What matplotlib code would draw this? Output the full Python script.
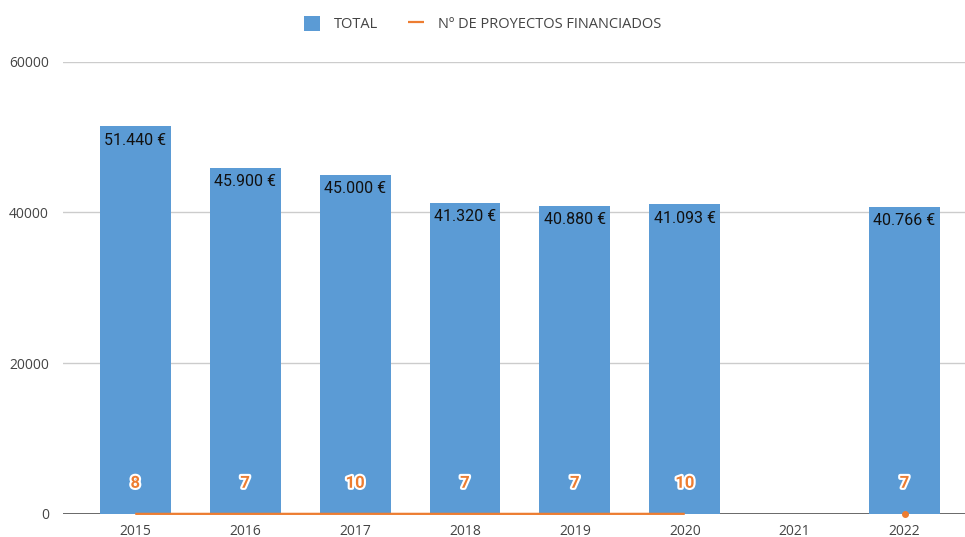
import numpy as np
import matplotlib.pyplot as plt
import matplotlib.patheffects as pe

# Data
years = ['2015', '2016', '2017', '2018', '2019', '2020', '2021', '2022']
total = [51440, 45900, 45000, 41320, 40880, 41093, np.nan, 40766]
total_labels = ['51.440 €', '45.900 €', '45.000 €', '41.320 €', '40.880 €', '41.093 €', '', '40.766 €']
proyectos = [8, 7, 10, 7, 7, 10, np.nan, 7]

blue = '#5B9BD5'
orange = '#ED7D31'

fig = plt.figure(figsize=(9.65, 5.37), dpi=100)
ax = fig.add_axes([0.065, 0.043, 0.935, 0.842])

x = np.arange(len(years))
tot = np.array(total, dtype=float)
bars = ax.bar(x, np.nan_to_num(tot), width=0.645, color=blue, zorder=2, label='TOTAL')

# value labels inside the top of the bars
for xi, v, lab in zip(x, tot, total_labels):
    if np.isnan(v):
        continue
    ax.annotate(lab, (xi, v), xytext=(0, -10), textcoords='offset points',
                ha='center', va='center', fontsize=11.5, color='#111111',
                family='Roboto', zorder=5)

# line series (same axis, so it sits at the bottom)
proy = np.array(proyectos, dtype=float)
line, = ax.plot(x, proy, color=orange, lw=1.6, zorder=3, label='Nº DE PROYECTOS FINANCIADOS',
                solid_capstyle='butt', clip_on=False)
# isolated points get a dot
for i, v in enumerate(proy):
    if np.isnan(v):
        continue
    left_nan = i == 0 or np.isnan(proy[i - 1])
    right_nan = i == len(proy) - 1 or np.isnan(proy[i + 1])
    if left_nan and right_nan:
        ax.plot(x[i], v, 'o', color=orange, ms=4, zorder=4, clip_on=False)
for xi, v in zip(x, proy):
    if np.isnan(v):
        continue
    ax.annotate('%d' % v, (xi, v), xytext=(0, 22), textcoords='offset points',
                ha='center', va='center', fontsize=12, fontweight='bold',
                color=orange, family='Roboto', zorder=6,
                path_effects=[pe.withStroke(linewidth=3, foreground='white')])

ax.set_xlim(-0.66, 7.55)
ax.set_ylim(0, 60000)
ax.set_yticks([0, 20000, 40000, 60000])
ax.set_xticks(x)
ax.set_xticklabels(years)
ax.grid(axis='y', color='#cccccc', lw=1, zorder=0)
ax.axhline(0, color='#333333', lw=1.2, zorder=1)
for s in ax.spines.values():
    s.set_visible(False)
ax.tick_params(length=0, labelsize=10, colors='#444444')
ax.tick_params(axis='x', pad=7)
ax.tick_params(axis='y', pad=10)
for t in ax.get_xticklabels() + ax.get_yticklabels():
    t.set_family('Open Sans')

leg = fig.legend([bars, line], ['TOTAL', 'Nº DE PROYECTOS FINANCIADOS'], loc='center',
                 bbox_to_anchor=(0.5, 0.955), ncol=2,
                 frameon=False, prop={'family': 'Open Sans', 'size': 10.5},
                 handlelength=1.1, handleheight=1.2, columnspacing=2.0, handletextpad=1.0)
for t in leg.get_texts():
    t.set_color('#444444')

fig.savefig('out.png', dpi=100)
